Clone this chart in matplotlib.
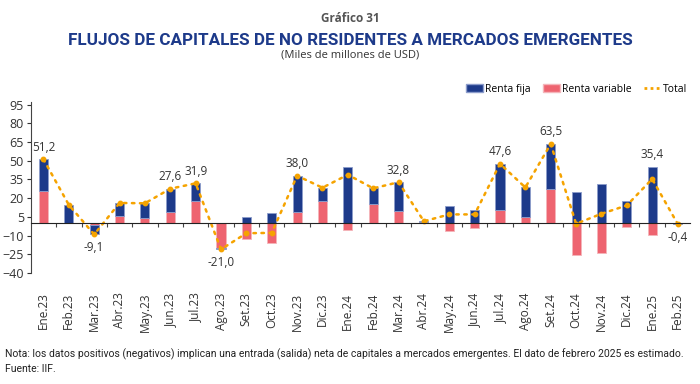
import numpy as np
import matplotlib
matplotlib.use('Agg')
import matplotlib.pyplot as plt
from matplotlib.lines import Line2D
from matplotlib.patches import Patch

plt.rcParams['font.family'] = ['Open Sans', 'DejaVu Sans']

meses = ['Ene.23', 'Feb.23', 'Mar.23', 'Abr.23', 'May.23', 'Jun.23', 'Jul.23',
         'Ago.23', 'Set.23', 'Oct.23', 'Nov.23', 'Dic.23', 'Ene.24', 'Feb.24',
         'Mar.24', 'Abr.24', 'May.24', 'Jun.24', 'Jul.24', 'Ago.24', 'Set.24',
         'Oct.24', 'Nov.24', 'Dic.24', 'Ene.25', 'Feb.25']
renta_fija = [25.1, 14.1, -7.8, 10.5, 12.1, 18.4, 14.4, -1.2, 4.6, 7.8, 28.8, 10.6,
              44.7, 12.3, 22.8, 0.3, 13.5, 10.6, 37.1, 24.0, 36.5, 25.3, 31.5, 17.4,
              45.3, -0.9]
renta_variable = [26.1, 0.5, -1.3, 5.7, 3.8, 9.2, 17.5, -19.8, -12.7, -15.6, 9.2, 17.8,
                  -5.9, 15.6, 10.0, 1.2, -6.5, -3.6, 10.5, 4.6, 27.0, -25.8, -24.0, -3.2,
                  -9.9, 0.5]
total = [51.2, 14.6, -9.1, 16.2, 15.9, 27.6, 31.9, -21.0, -8.1, -7.8, 38.0, 28.4,
         38.8, 27.9, 32.8, 1.5, 7.0, 7.0, 47.6, 28.6, 63.5, -0.5, 7.5, 14.2,
         35.4, -0.4]
etiquetas = {0: '51,2', 2: '-9,1', 5: '27,6', 6: '31,9', 7: '-21,0', 10: '38,0',
             14: '32,8', 18: '47,6', 20: '63,5', 24: '35,4', 25: '-0,4'}

AZUL = '#1D3A8A'
ROSA = '#EE6470'
NARANJA = '#F5A300'
GRIS = '#333333'
ANGOSTA = ['Roboto', 'DejaVu Sans']

x = np.arange(len(meses))
rf = np.array(renta_fija)
rv = np.array(renta_variable)

fig = plt.figure(figsize=(7, 3.84), dpi=100)
ax = fig.add_axes([0.044, 0.289, 0.942, 0.445])

w = 0.36
# renta variable pegada al cero, renta fija apilada encima (en cada signo)
ax.bar(x, rv, width=w, color=ROSA, edgecolor='#F4B5BA', linewidth=0.6, zorder=2)
base_rf = np.where(np.sign(rf) == np.sign(rv), rv, 0)
ax.bar(x, rf, width=w, bottom=base_rf, color=AZUL, edgecolor='#8C9CCB', linewidth=0.6, zorder=2)

ax.plot(x, total, color=NARANJA, linestyle=(0, (1, 2.2)), linewidth=1.8,
        dash_capstyle='round', zorder=3)
ax.plot(x, total, 'o', color=NARANJA, markersize=3.2, zorder=4)

for i, txt in etiquetas.items():
    if total[i] >= 0:
        ax.annotate(txt, (x[i], max(total[i], rf[i] + max(rv[i], 0))), xytext=(0, 4),
                    textcoords='offset points', ha='center', va='bottom',
                    fontsize=8.5, color=GRIS)
    else:
        low = min(rf[i], 0) + min(rv[i], 0)
        ax.annotate(txt, (x[i], min(total[i], low)), xytext=(0, -5),
                    textcoords='offset points', ha='center', va='top',
                    fontsize=8.5, color=GRIS)

ax.set_xlim(-0.5, len(meses) - 0.5)
ax.set_ylim(-40, 97)
ax.set_yticks(np.arange(-40, 96, 15))
ax.tick_params(axis='y', labelsize=9, colors=GRIS, length=3, width=0.8, pad=2)

ax.spines['top'].set_visible(False)
ax.spines['right'].set_visible(False)
ax.spines['left'].set_color('#444444')
ax.spines['bottom'].set_position(('data', 0))
ax.spines['bottom'].set_color('#222222')
ax.spines['bottom'].set_zorder(5)

ax.set_xticks(x)
ax.set_xticklabels(meses, rotation=90, fontsize=8.5, color=GRIS)
ax.set_xticks(x[:-1] + 0.5, minor=True)
ax.tick_params(axis='x', which='major', length=0, pad=50)
ax.tick_params(axis='x', which='minor', length=3, width=0.8, color='#444444')

handles = [Patch(facecolor=AZUL, edgecolor='#8C9CCB', label='Renta fija'),
           Patch(facecolor=ROSA, edgecolor='#F4B5BA', label='Renta variable'),
           Line2D([0], [0], color=NARANJA, linestyle=(0, (1, 1.2)), linewidth=2, label='Total')]
fig.legend(handles=handles, loc='center right', bbox_to_anchor=(0.995, 0.768), ncol=3,
           frameon=False, fontsize=7.5, handlelength=1.6, handleheight=0.9,
           handletextpad=0.2, columnspacing=1.2)

fig.text(0.5, 0.953, 'Gráfico 31', ha='center', va='center', fontsize=8.5,
         fontweight='bold', color='#555555')
fig.text(0.5, 0.895, 'FLUJOS DE CAPITALES DE NO RESIDENTES A MERCADOS EMERGENTES',
         ha='center', va='center', fontsize=12.3, fontweight='bold', color=AZUL,
         family=ANGOSTA)
fig.text(0.5, 0.856, '(Miles de millones de USD)', ha='center', va='center',
         fontsize=8, color=GRIS)

fig.text(0.007, 0.077, 'Nota: los datos positivos (negativos) implican una entrada (salida) neta '
         'de capitales a mercados emergentes. El dato de febrero 2025 es estimado.',
         ha='left', va='center', fontsize=7.5, color='#222222', family=ANGOSTA)
fig.text(0.007, 0.038, 'Fuente: IIF.', ha='left', va='center', fontsize=7.5,
         color='#222222', family=ANGOSTA)

fig.savefig('out.png', dpi=100)
